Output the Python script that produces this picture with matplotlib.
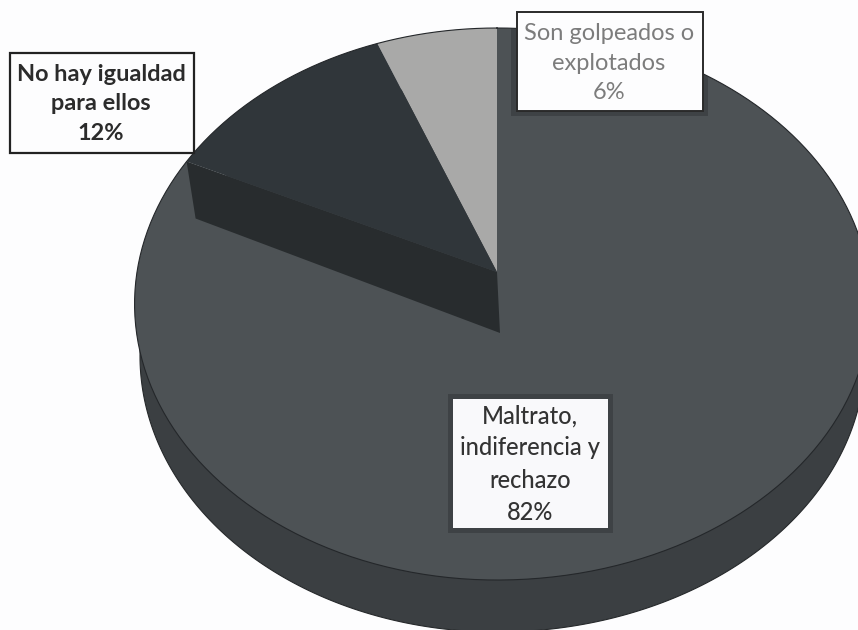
import numpy as np
import matplotlib
matplotlib.use('Agg')
import matplotlib.pyplot as plt
from matplotlib.patches import Rectangle, Polygon

plt.rcParams['font.family'] = ['Lato', 'DejaVu Sans']

# slices, clockwise from 12 o'clock
labels = ['Son golpeados o\nexplotados\n6%', 'No hay igualdad\npara ellos\n12%',
          'Maltrato,\nindiferencia y\nrechazo\n82%']
values = [6, 12, 82]
colors = ['#a9a9a8', '#30363a', '#4d5255']

fig = plt.figure(figsize=(8.58, 6.30), dpi=100, facecolor='#fdfdfe')
ax = fig.add_axes([0, 0, 1, 1])
ax.set_xlim(0, 858)
ax.set_ylim(630, 0)
ax.axis('off')


# tilted disc: percent position -> pixel, with the perspective of the 3d pie
def rim(pct, drop=0, shrink=1.0):
    t = np.radians(90 + np.asarray(pct) * 3.6)
    xx, yy = np.cos(t), np.sin(t)
    w = 1 + 0.116 * yy
    a = np.where(xx < 0, 360, 371) * shrink
    return 497 + a * xx / w, (272 - 240.75 * yy) / w + drop


def wedge(start, end, color):
    steps = np.linspace(start, end, 200)
    x, y = rim(steps)
    ax.fill(np.r_[497, x], np.r_[272, y], color=color, lw=0)


# side of the disc
all_pct = np.linspace(0, 100, 400)
xb, yb = rim(all_pct, drop=52, shrink=0.985)
ax.fill(xb, yb, color='#3b3f42', ec='#26292b', lw=0.8)

# slices, the big one first because the wall of the dark one sits on it
wedge(18, 100, colors[2])

rx, ry = rim(18)
ax.fill([497, rx, rx + 9, 500], [272, ry, ry + 57, 333], color='#282c2e', lw=0)

cum = np.cumsum([0] + values)
wedge(cum[0], cum[1], colors[0])
wedge(cum[1], cum[2], colors[1])

# rim lines
xt, yt = rim(all_pct)
ax.plot(xt, yt, color='#24272a', lw=0.8, zorder=2)

# dark halo round the boxes, only on the pie
disc = Polygon(np.c_[xt, yt], closed=True, transform=ax.transData)
for box in [(511, 8, 197, 108), (448, 394, 165, 139)]:
    halo = Rectangle(box[:2], box[2], box[3], fc='#2c3032', alpha=0.45, lw=0, zorder=3)
    ax.add_patch(halo)
    halo.set_clip_path(disc)

# label boxes
ax.add_patch(Rectangle((10, 53), 184, 100, fc='#fdfdfe', ec='#222222', lw=1.6, zorder=4))
ax.add_patch(Rectangle((517, 12), 186, 99, fc='#fdfdfe', ec='#2a2a2a', lw=1.4, zorder=4))
ax.add_patch(Rectangle((453, 399), 155, 129, fc='#f9f9fb', lw=0, zorder=4))

ax.text(101, 104, labels[1], ha='center', va='center', fontsize=16.9,
        fontweight='bold', color='#2b2b2b', linespacing=1.48, zorder=5)
ax.text(609, 63, labels[0], ha='center', va='center', fontsize=17,
        color='#7c7c7c', linespacing=1.48, zorder=5)
ax.text(530, 464, labels[2], ha='center', va='center', fontsize=17,
        fontweight='medium', color='#333333', linespacing=1.48, zorder=5)

fig.savefig('out.png', dpi=100, facecolor=fig.get_facecolor())
